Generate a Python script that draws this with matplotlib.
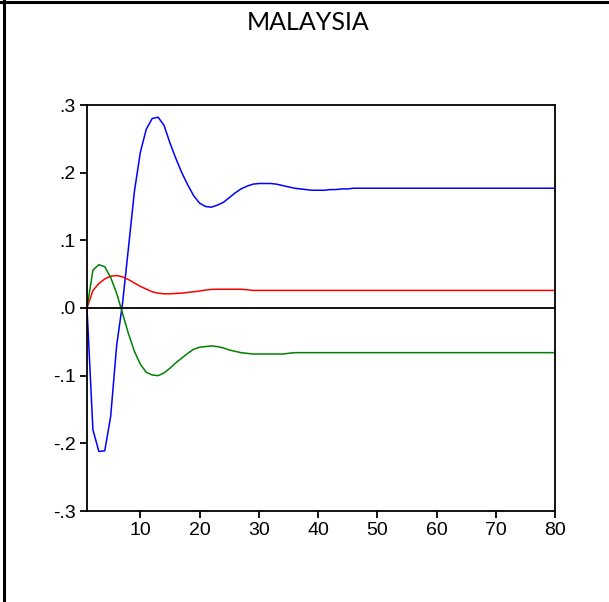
import matplotlib
matplotlib.use('Agg')
import matplotlib.pyplot as plt
from matplotlib.lines import Line2D
import numpy as np

# impulse responses, periods 1..80
periods = np.arange(1, 81)

blue_head = [0.0, -0.18, -0.212, -0.211, -0.16, -0.056, 0.007, 0.089, 0.172, 0.23,
             0.264, 0.280, 0.282, 0.270, 0.244, 0.221, 0.200, 0.182, 0.166, 0.155,
             0.150, 0.149, 0.152, 0.156, 0.163, 0.170, 0.176, 0.180, 0.183, 0.184,
             0.184, 0.184, 0.183, 0.181, 0.179, 0.177, 0.176, 0.175, 0.174, 0.174,
             0.174, 0.175, 0.175, 0.176, 0.176]
blue_tail = 0.177

red_head = [0.0, 0.026, 0.036, 0.043, 0.047, 0.048, 0.046, 0.042, 0.037, 0.032,
            0.028, 0.024, 0.022, 0.021, 0.021, 0.0215, 0.022, 0.023, 0.024, 0.025,
            0.0265, 0.0275, 0.0277, 0.0277, 0.0277, 0.0277, 0.0277, 0.027]
red_tail = 0.026

green_head = [0.0, 0.056, 0.064, 0.061, 0.045, 0.022, -0.008, -0.038, -0.064, -0.083,
              -0.095, -0.099, -0.100, -0.096, -0.089, -0.081, -0.074, -0.067, -0.061, -0.058,
              -0.057, -0.056, -0.057, -0.059, -0.062, -0.064, -0.066, -0.067, -0.068, -0.068,
              -0.068, -0.068, -0.068, -0.068, -0.067]
green_tail = -0.066

blue = blue_head + [blue_tail] * (80 - len(blue_head))
red = red_head + [red_tail] * (80 - len(red_head))
green = green_head + [green_tail] * (80 - len(green_head))

xticks = [10, 20, 30, 40, 50, 60, 70, 80]
yticks = [-0.3, -0.2, -0.1, 0.0, 0.1, 0.2, 0.3]
ytick_labels = ['-.3', '-.2', '-.1', '.0', '.1', '.2', '.3']

fig = plt.figure(figsize=(6.09, 6.02), dpi=100)
ax = fig.add_axes([87/609, 1 - 511/602, (555 - 87)/609, (511 - 105)/602])

ax.plot(periods, blue, color='#0000ff', lw=1.1)
ax.plot(periods, red, color='#ff0000', lw=1.1)
ax.plot(periods, green, color='#008000', lw=1.1)
ax.axhline(0, color='black', lw=1.3)

ax.set_xlim(1, 80)
ax.set_ylim(-0.3, 0.3)
ax.set_xticks(xticks)
ax.set_yticks(yticks)
ax.set_yticklabels(ytick_labels)
tick_font = ['Liberation Sans Narrow', 'Liberation Sans']
for lab in ax.get_xticklabels() + ax.get_yticklabels():
    lab.set_family(tick_font)
    lab.set_fontsize(14)
ax.tick_params(direction='out', length=5, width=1.3, pad=3)
for s in ax.spines.values():
    s.set_linewidth(1.3)

fig.text(308/609, 1 - 22/602, 'MALAYSIA', ha='center', va='center',
         fontsize=18, family='Lato')

# frame lines at top and left of the picture
fig.add_artist(Line2D([0, 1], [1 - 1.5/602, 1 - 1.5/602], color='black', lw=2.2))
fig.add_artist(Line2D([3.5/609, 3.5/609], [0, 1], color='black', lw=2.2))

fig.savefig('out.png', dpi=100)
